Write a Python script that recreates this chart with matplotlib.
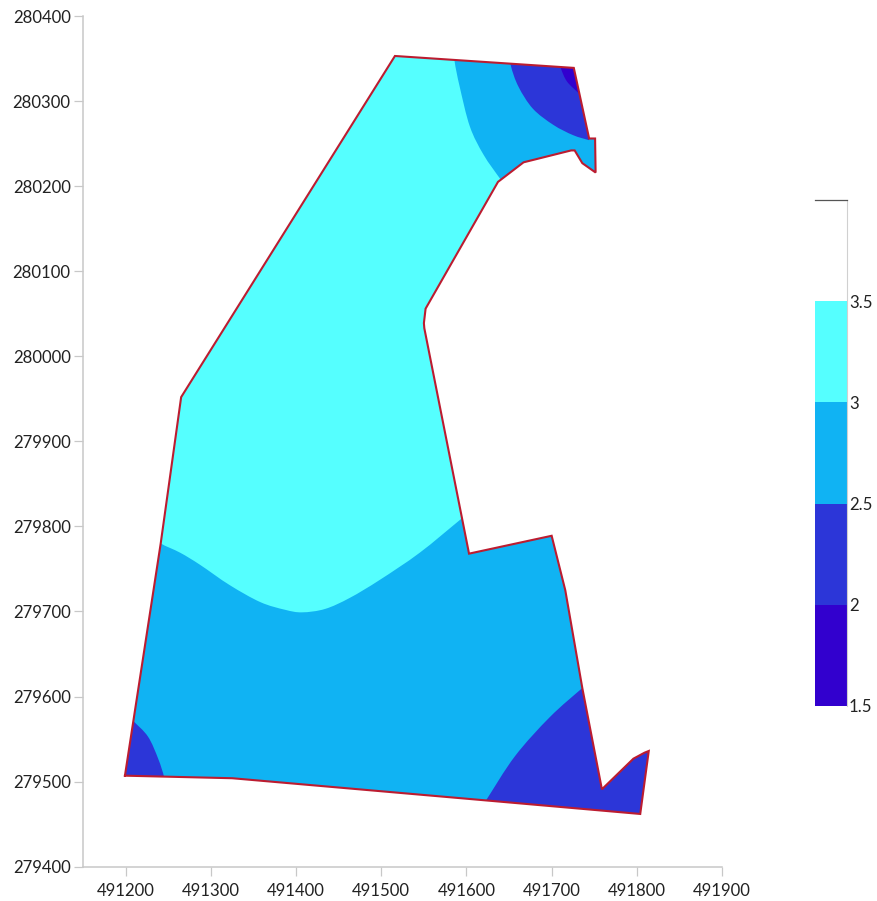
import matplotlib
matplotlib.use('Agg')
import matplotlib.pyplot as plt
from matplotlib.patches import Polygon, PathPatch
from matplotlib.path import Path

plt.rcParams['font.family'] = ['Lato', 'DejaVu Sans']

# site outline
border_x = [491199, 491241, 491265, 491516, 491726, 491744, 491751, 491751.6, 491736, 491727, 491723,
            491667, 491637, 491552, 491550, 491550.5, 491603, 491700, 491716, 491736, 491759,
            491796, 491809, 491814, 491804, 491622, 491325, 491199]
border_y = [279507, 279780, 279952, 280353, 280339, 280256, 280256, 280216, 280227, 280242, 280242,
            280228, 280205, 280056, 280039, 280033, 279768, 279789, 279725, 279610, 279491,
            279527, 279534, 279536, 279462, 279478, 279504, 279507]

s3_x = [491230, 491241, 491264, 491287, 491322, 491358, 491387, 491407, 491434,
        491463, 491498, 491545, 491594, 491620]
s3_y = [279790, 279780, 279769, 279755, 279731, 279711, 279702, 279699, 279703,
        279716, 279737, 279769, 279809, 279830]
s3_close_x = [491900, 491900, 491150, 491150]
s3_close_y = [279830, 279400, 279400, 279790]

ne3_x = [491584, 491586, 491592, 491604, 491620, 491640, 491650]
ne3_y = [280370, 280347, 280317, 280270, 280237, 280208, 280195]
ne3_close_x = [491900, 491900, 491584]
ne3_close_y = [280195, 280400, 280400]

ne25_x = [491649, 491652, 491661, 491678, 491702, 491725, 491744]
ne25_y = [280365, 280342, 280317, 280291, 280272, 280260, 280254]
ne25_close_x = [491746, 491649]
ne25_close_y = [280400, 280400]

ne2_x = [491708, 491711, 491718, 491731, 491740]
ne2_y = [280350, 280338, 280323, 280310, 280302]
ne2_close_x = [491740, 491708]
ne2_close_y = [280400, 280400]

sw25_x = [491195, 491208, 491226, 491238, 491245, 491246]
sw25_y = [279585, 279572, 279553, 279527, 279505, 279490]
sw25_close_x = [491150, 491150]
sw25_close_y = [279490, 279585]

se25_x = [491746, 491736, 491698, 491657, 491623, 491610]
se25_y = [279618, 279610, 279576, 279530, 279478, 279458]
se25_close_x = [491610, 491900, 491900]
se25_close_y = [279440, 279440, 279618]

levels = [1.5, 2, 2.5, 3, 3.5, 4]
level_labels = ['1.5', '2', '2.5', '3', '3.5']
level_colors = ['#3200CE', '#2C36D8', '#10B3F3', '#55FFFF', '#FFFFFF']

xticks = [491200, 491300, 491400, 491500, 491600, 491700, 491800, 491900]
yticks = [279400, 279500, 279600, 279700, 279800, 279900, 280000, 280100, 280200, 280300, 280400]


def band_path(cx, cy, close_x, close_y):
    # bezier through the contour points, straight lines for the closing part
    verts = [(cx[0], cy[0])]
    codes = [Path.MOVETO]
    n = len(cx)
    for i in range(n - 1):
        i0 = max(i - 1, 0)
        i3 = min(i + 2, n - 1)
        verts.append((cx[i] + (cx[i + 1] - cx[i0]) / 6, cy[i] + (cy[i + 1] - cy[i0]) / 6))
        verts.append((cx[i + 1] - (cx[i3] - cx[i]) / 6, cy[i + 1] - (cy[i3] - cy[i]) / 6))
        verts.append((cx[i + 1], cy[i + 1]))
        codes += [Path.CURVE4, Path.CURVE4, Path.CURVE4]
    for px, py in zip(close_x, close_y):
        verts.append((px, py))
        codes.append(Path.LINETO)
    verts.append((cx[0], cy[0]))
    codes.append(Path.CLOSEPOLY)
    return Path(verts, codes)


W, H = 878, 901
fig = plt.figure(figsize=(W / 100, H / 100), dpi=100)
ax = fig.add_axes([83.2 / W, (H - 866.7) / H, (722 - 83.2) / W, (866.7 - 16) / H])

outline = Polygon(list(zip(border_x, border_y)), closed=True, facecolor=level_colors[3], edgecolor='none')
ax.add_patch(outline)

bands = [
    (s3_x, s3_y, s3_close_x, s3_close_y, level_colors[2]),
    (ne3_x, ne3_y, ne3_close_x, ne3_close_y, level_colors[2]),
    (ne25_x, ne25_y, ne25_close_x, ne25_close_y, level_colors[1]),
    (ne2_x, ne2_y, ne2_close_x, ne2_close_y, level_colors[0]),
    (sw25_x, sw25_y, sw25_close_x, sw25_close_y, level_colors[1]),
    (se25_x, se25_y, se25_close_x, se25_close_y, level_colors[1]),
]
for cx, cy, close_x, close_y, col in bands:
    p = PathPatch(band_path(cx, cy, close_x, close_y), facecolor=col, edgecolor='none', linewidth=0)
    ax.add_patch(p)
    p.set_clip_path(outline)

ax.plot(border_x, border_y, color='#BC1C30', linewidth=1.5, solid_joinstyle='miter')

ax.set_xlim(491150, 491900)
ax.set_ylim(279400, 280400)
ax.set_xticks(xticks)
ax.set_yticks(yticks)
ax.ticklabel_format(useOffset=False, style='plain')
ax.spines['top'].set_visible(False)
ax.spines['right'].set_visible(False)
for s in ['left', 'bottom']:
    ax.spines[s].set_color('#C8C8C8')
    ax.spines[s].set_linewidth(1.1)
ax.tick_params(length=6.5, width=0.9, color='#C8C8C8', labelcolor='#222222', labelsize=12.1, pad=2.5)
ax.tick_params(axis='x', pad=5.5)

# colour bar
cax = fig.add_axes([815 / W, (H - 706) / H, (847 - 815) / W, (706 - 200) / H])
for i in range(len(level_labels)):
    cax.bar(0, levels[i + 1] - levels[i], bottom=levels[i], width=1, color=level_colors[i], linewidth=0)
cax.set_xlim(-0.5, 0.5)
cax.set_ylim(levels[0], levels[-1])
cax.set_xticks([])
cax.set_yticks(levels[:-1])
cax.set_yticklabels(level_labels)
cax.yaxis.tick_right()
cax.tick_params(axis='y', length=0, pad=1.5, labelsize=12.1, labelcolor='#222222')
cax.spines['left'].set_visible(False)
cax.spines['bottom'].set_visible(False)
cax.spines['right'].set_color('#D0D0D0')
cax.spines['top'].set_color('#555555')
cax.spines['top'].set_linewidth(0.9)

fig.savefig('out.png', dpi=100)
